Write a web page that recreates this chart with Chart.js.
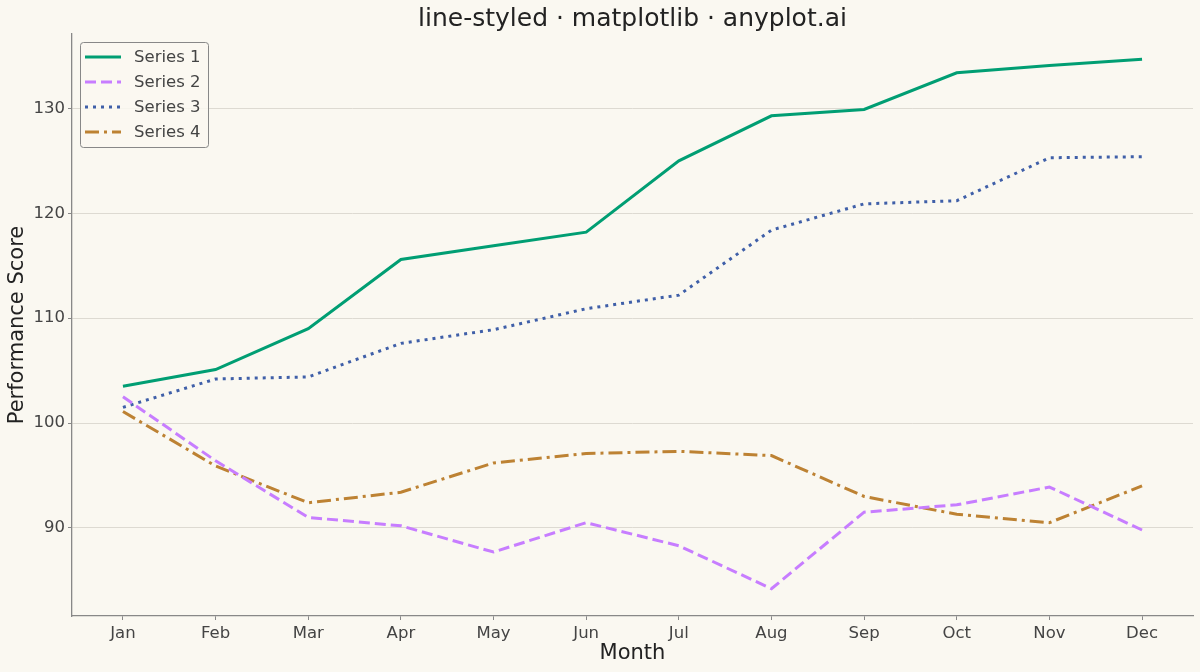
<!DOCTYPE html>
<html>
<head>
<meta charset="utf-8">
<script src="https://cdn.jsdelivr.net/npm/chart.js@4"></script>
<style>
  html, body { margin: 0; padding: 0; background: #FAF8F1; }
  #wrap { width: 1200px; height: 672px; }
</style>
</head>
<body>
<div id="wrap"><canvas id="chart" width="1200" height="672"></canvas></div>
<script>
// line-styled chart

const months = ['Jan', 'Feb', 'Mar', 'Apr', 'May', 'Jun', 'Jul', 'Aug', 'Sep', 'Oct', 'Nov', 'Dec'];
const series1 = [103.5, 105.1, 109.0, 115.6, 116.9, 118.2, 125.0, 129.3, 129.9, 133.4, 134.1, 134.7];
const series2 = [102.5, 96.4, 91.0, 90.2, 87.7, 90.5, 88.3, 84.2, 91.5, 92.2, 93.9, 89.8];
const series3 = [101.5, 104.2, 104.4, 107.6, 108.9, 110.9, 112.2, 118.4, 120.9, 121.2, 125.3, 125.4];
const series4 = [101.1, 95.9, 92.4, 93.4, 96.2, 97.1, 97.3, 96.9, 93.0, 91.3, 90.5, 94.0];
const yTicks = [90, 100, 110, 120, 130];

const font = "'DejaVu Sans', sans-serif";
const textColor = '#444444';

function pts(arr) {
  return arr.map((v, i) => ({ x: i, y: v }));
}

// legend drawn inside the plot, upper left like matplotlib
const boxLegend = {
  id: 'boxLegend',
  afterDraw(chart) {
    const ctx = chart.ctx;
    const area = chart.chartArea;
    const x0 = area.left + 8, y0 = area.top + 8;
    const w = 128, h = 105;
    ctx.save();
    ctx.fillStyle = 'rgba(250,248,241,0.85)';
    ctx.strokeStyle = '#888888';
    ctx.lineWidth = 1;
    ctx.beginPath();
    ctx.roundRect(x0 + 0.5, y0 + 0.5, w, h, 3);
    ctx.fill();
    ctx.stroke();
    chart.data.datasets.forEach((ds, i) => {
      const y = y0 + 15 + i * 25;
      ctx.strokeStyle = ds.borderColor;
      ctx.lineWidth = ds.borderWidth;
      ctx.setLineDash(ds.borderDash || []);
      ctx.beginPath();
      ctx.moveTo(x0 + 5, y);
      ctx.lineTo(x0 + 41, y);
      ctx.stroke();
      ctx.setLineDash([]);
      ctx.fillStyle = textColor;
      ctx.font = '16.5px ' + font;
      ctx.textBaseline = 'middle';
      ctx.fillText(ds.label, x0 + 54, y + 1);
    });
    ctx.restore();
  }
};

const bgPlugin = {
  id: 'bg',
  beforeDraw(chart) {
    const ctx = chart.ctx;
    ctx.save();
    ctx.fillStyle = '#FAF8F1';
    ctx.fillRect(0, 0, chart.width, chart.height);
    ctx.restore();
  }
};

new Chart(document.getElementById('chart'), {
  type: 'line',
  data: {
    datasets: [
      { label: 'Series 1', data: pts(series1), borderColor: '#009E73', borderWidth: 3, pointRadius: 0, tension: 0 },
      { label: 'Series 2', data: pts(series2), borderColor: '#C77DFF', borderWidth: 3, borderDash: [11, 5], pointRadius: 0, tension: 0 },
      { label: 'Series 3', data: pts(series3), borderColor: '#3F5FA8', borderWidth: 3, borderDash: [3, 5], pointRadius: 0, tension: 0 },
      { label: 'Series 4', data: pts(series4), borderColor: '#BD8233', borderWidth: 3, borderDash: [14, 5, 3, 5], pointRadius: 0, tension: 0 }
    ]
  },
  options: {
    responsive: false,
    animation: false,
    layout: { padding: { left: 0, right: 7, top: 0, bottom: 0 } },
    plugins: {
      legend: { display: false },
      tooltip: { enabled: false },
      title: {
        display: true,
        fullSize: false,
        text: 'line-styled · matplotlib · anyplot.ai',
        color: '#222222',
        font: { family: font, size: 25, weight: 'normal' },
        padding: { top: 4, bottom: 0 }
      }
    },
    scales: {
      x: {
        type: 'linear',
        min: -0.55,
        max: 11.55,
        afterBuildTicks(scale) {
          scale.ticks = months.map((m, i) => ({ value: i }));
        },
        ticks: {
          color: textColor,
          font: { family: font, size: 16.5 },
          padding: 4,
          maxRotation: 0,
          callback: v => months[v]
        },
        grid: { display: true, drawOnChartArea: false, drawTicks: true, tickLength: 4, color: '#888888' },
        border: { color: '#888888', width: 1.3 },
        title: {
          display: true,
          text: 'Month',
          color: '#222222',
          font: { family: font, size: 21 },
          padding: { top: 2, bottom: 6 }
        },
        afterFit(scale) { scale.height = 56; }
      },
      y: {
        min: 81.6,
        max: 137.1,
        afterBuildTicks(scale) {
          scale.ticks = yTicks.map(v => ({ value: v }));
        },
        ticks: {
          color: textColor,
          font: { family: font, size: 16.5 },
          padding: 3
        },
        grid: { color: '#DDDAD2', lineWidth: 1, tickLength: 4, tickColor: '#888888' },
        border: { color: '#888888', width: 1.3 },
        title: {
          display: true,
          text: 'Performance Score',
          color: '#222222',
          font: { family: font, size: 21 },
          padding: { top: 5, bottom: 0 }
        },
        afterFit(scale) { scale.width = 72; }
      }
    }
  },
  plugins: [bgPlugin, boxLegend]
});
</script>
</body>
</html>
